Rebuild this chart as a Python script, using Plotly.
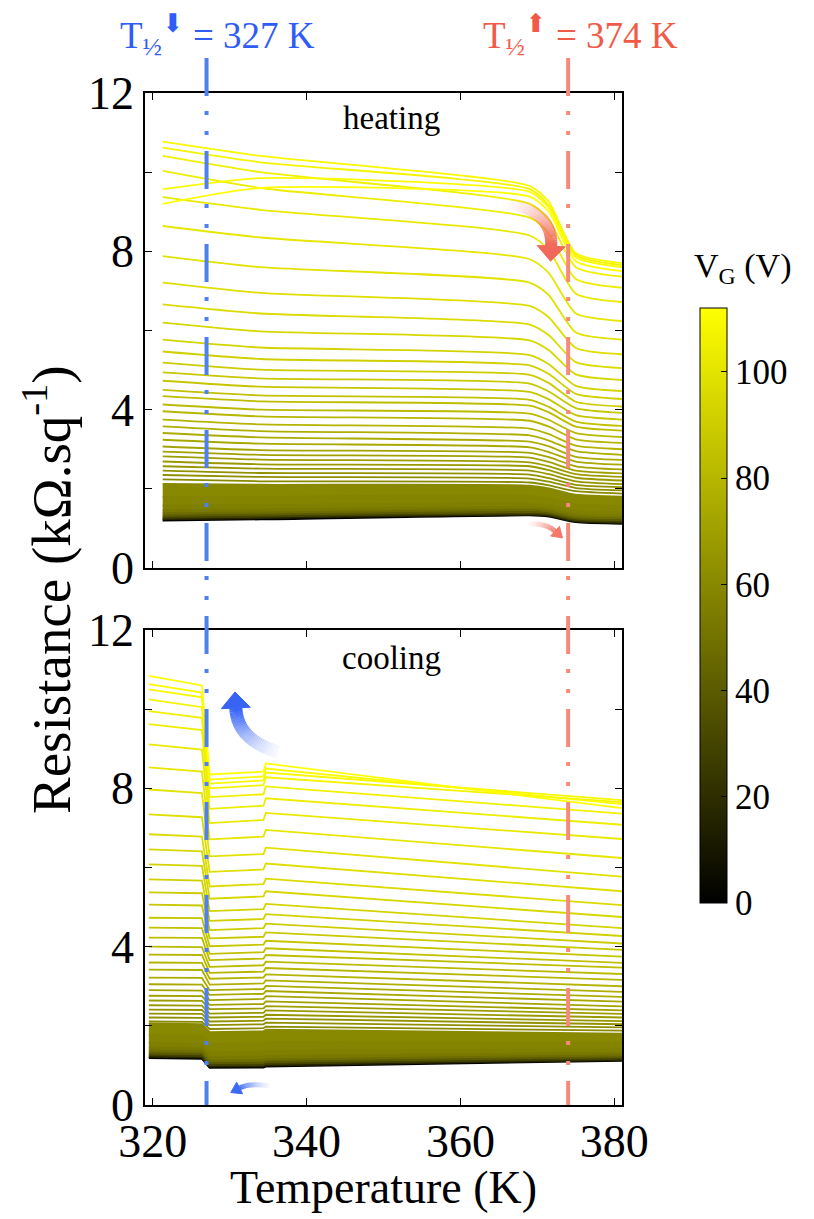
import plotly.graph_objects as go
import math

# ---------------- data ----------------
VMAX = 112
# separated curves, top -> bottom (gate voltage, V)
VG_LINES = [112.0, 110.4, 108.8, 107.2, 105.6, 104.0, 102.4, 100.8, 99.2, 97.6, 96.0, 94.4, 92.8, 91.2, 89.6,
            88.0, 86.4, 84.8, 83.2, 81.6, 80.0, 78.4, 76.8, 75.2, 73.6, 72.0, 70.4, 68.8, 67.2, 65.6, 64.0,
            62.4, 60.8]
# heating branch (kOhm/sq) at the HEAT_T knots
HEAT_T = [321.3, 334.0, 369.0, 371.5, 375.0, 381.0]
H320 = [9.20, 9.57, 10.77, 10.62, 10.41, 10.03, 9.37, 8.64, 7.88, 7.21, 6.66, 6.20, 5.77, 5.47, 5.19, 4.94, 4.73,
        4.50, 4.34, 4.13, 3.96, 3.75, 3.58, 3.41, 3.24, 3.07, 2.94, 2.82, 2.69, 2.57, 2.46, 2.35, 2.24]
H334 = [9.60, 9.85, 10.41, 10.25, 10.00, 9.60, 9.05, 8.35, 7.60, 6.95, 6.43, 5.98, 5.57, 5.28, 5.01, 4.79, 4.58,
        4.36, 4.21, 4.00, 3.83, 3.63, 3.46, 3.30, 3.14, 2.98, 2.86, 2.74, 2.62, 2.51, 2.40, 2.30, 2.19]
H369 = [9.38, 9.50, 9.65, 9.57, 9.20, 8.85, 8.40, 7.80, 7.21, 6.62, 6.15, 5.75, 5.38, 5.12, 4.88, 4.66, 4.45,
        4.25, 4.10, 3.90, 3.72, 3.52, 3.35, 3.19, 3.05, 2.91, 2.79, 2.67, 2.57, 2.46, 2.36, 2.26, 2.16]
H372 = [9.00, 9.10, 9.25, 9.15, 8.80, 8.45, 8.03, 7.45, 6.89, 6.33, 5.88, 5.50, 5.15, 4.90, 4.67, 4.46, 4.26,
        4.07, 3.93, 3.74, 3.57, 3.38, 3.22, 3.07, 2.93, 2.80, 2.68, 2.57, 2.47, 2.37, 2.27, 2.18, 2.09]
H375 = [7.75, 7.85, 7.95, 7.90, 7.60, 7.30, 6.93, 6.43, 5.95, 5.56, 5.20, 4.89, 4.60, 4.40, 4.20, 4.04, 3.86,
        3.70, 3.57, 3.41, 3.25, 3.09, 2.95, 2.81, 2.69, 2.57, 2.46, 2.37, 2.28, 2.19, 2.10, 2.02, 1.94]
R381 = [7.50, 7.60, 7.70, 7.65, 7.36, 7.08, 6.72, 6.24, 5.77, 5.40, 5.05, 4.75, 4.47, 4.27, 4.08, 3.92, 3.75,
        3.59, 3.47, 3.31, 3.16, 3.00, 2.86, 2.73, 2.61, 2.49, 2.39, 2.30, 2.21, 2.12, 2.04, 1.96, 1.88]
# cooling branch at the COOL_T knots
COOL_T = [319.5, 326.4, 327.4, 334.4, 334.7, 381.0]
C320 = [10.84, 10.63, 10.50, 10.25, 9.95, 9.62, 9.11, 8.53, 7.97, 7.34, 6.84, 6.46, 6.08, 5.70, 5.37, 5.06, 4.73,
        4.48, 4.23, 4.00, 3.80, 3.60, 3.42, 3.22, 3.05, 2.90, 2.76, 2.64, 2.52, 2.41, 2.31, 2.21, 2.11]
C326 = [10.60, 10.42, 10.30, 10.05, 9.78, 9.47, 8.98, 8.42, 7.88, 7.27, 6.78, 6.41, 6.04, 5.67, 5.35, 5.04, 4.72,
        4.47, 4.22, 3.99, 3.79, 3.59, 3.41, 3.21, 3.04, 2.89, 2.75, 2.63, 2.51, 2.40, 2.30, 2.20, 2.10]
C328 = [8.35, 8.22, 8.12, 8.00, 7.78, 7.48, 7.12, 6.71, 6.28, 5.89, 5.52, 5.21, 4.90, 4.65, 4.42, 4.21, 4.01,
        3.82, 3.66, 3.49, 3.34, 3.19, 3.04, 2.90, 2.78, 2.65, 2.53, 2.42, 2.31, 2.21, 2.11, 2.02, 1.92]
C334 = [8.42, 8.30, 8.20, 8.08, 7.85, 7.56, 7.20, 6.78, 6.34, 5.95, 5.58, 5.27, 4.95, 4.70, 4.47, 4.25, 4.05,
        3.86, 3.70, 3.53, 3.37, 3.22, 3.07, 2.93, 2.81, 2.68, 2.55, 2.44, 2.33, 2.23, 2.13, 2.04, 1.94]
C335 = [8.63, 8.50, 8.40, 8.28, 8.05, 7.75, 7.38, 6.95, 6.50, 6.10, 5.72, 5.40, 5.08, 4.82, 4.58, 4.36, 4.15,
        3.96, 3.79, 3.62, 3.46, 3.30, 3.15, 3.01, 2.88, 2.75, 2.62, 2.50, 2.39, 2.28, 2.18, 2.08, 1.98]

# dense low-voltage band, bottom -> top
BAND_VG = [0, 16, 30, 40, 48, 53, 56, 58, 60]
BAND_H320 = [1.20, 1.23, 1.27, 1.32, 1.38, 1.46, 1.58, 1.80, 2.12]
BAND_H334 = [1.23, 1.26, 1.30, 1.35, 1.40, 1.48, 1.59, 1.80, 2.10]
BAND_H369 = [1.33, 1.35, 1.38, 1.42, 1.47, 1.53, 1.63, 1.82, 2.08]
BAND_H372 = [1.30, 1.32, 1.35, 1.39, 1.43, 1.49, 1.58, 1.76, 2.01]
BAND_H375 = [1.16, 1.18, 1.21, 1.25, 1.29, 1.35, 1.44, 1.61, 1.85]
BAND_R381 = [1.12, 1.14, 1.17, 1.21, 1.26, 1.32, 1.41, 1.57, 1.80]
BAND_C320 = [1.19, 1.22, 1.26, 1.31, 1.37, 1.45, 1.57, 1.77, 2.06]
BAND_C326 = [1.17, 1.20, 1.24, 1.29, 1.35, 1.43, 1.55, 1.75, 2.04]
BAND_C328 = [0.94, 0.97, 1.01, 1.06, 1.12, 1.21, 1.33, 1.54, 1.84]
BAND_C334 = [0.95, 0.98, 1.02, 1.07, 1.13, 1.22, 1.35, 1.56, 1.86]
BAND_C335 = [0.97, 1.00, 1.04, 1.09, 1.15, 1.24, 1.37, 1.59, 1.90]

T_HALF_DOWN = 327
T_HALF_UP = 374
X_TICKS = [320, 340, 360, 380]
Y_TICKS = [0, 2, 4, 6, 8, 10, 12]
Y_TICKTEXT = ["0", "", "4", "", "8", "", "12"]
CB_TICKS = [0, 20, 40, 60, 80, 100]

# ---------------- style ----------------
FONT = "Liberation Serif, Times New Roman, DejaVu Serif, serif"
BLUE_LINE = "#4f80f2"
RED_LINE = "#f48a7c"
BLUE_TXT = "#2f5cf6"
RED_TXT = "#f25a48"

# page offset of the figure and plot-area geometry (px in the 814x1219 picture)
OFF = 8
PL, PT, PW, PH = 145, 93, 477, 1012


def vg_color(v):
    f = max(0.0, min(1.0, v / VMAX))
    c = round(255 * f)
    return f"rgb({c},{c},0)"


def px_x(px):
    return (px - PL) / PW


def px_y(py):
    return (PT + PH - py) / PH


fig = go.Figure()

# ---- band (filled) ----
for panel in ("heat", "cool"):
    for i, v in enumerate(BAND_VG):
        if panel == "heat":
            xs = HEAT_T
            ys = [BAND_H320[i], BAND_H334[i], BAND_H369[i], BAND_H372[i], BAND_H375[i], BAND_R381[i]]
            xa, ya, shape = "x", "y", "spline"
        else:
            xs = COOL_T
            ys = [BAND_C320[i], BAND_C326[i], BAND_C328[i], BAND_C334[i], BAND_C335[i], BAND_R381[i]]
            xa, ya, shape = "x2", "y2", "linear"
        fig.add_trace(go.Scatter(
            x=xs, y=ys, mode="lines", xaxis=xa, yaxis=ya,
            line=dict(color=vg_color(v), width=2, shape=shape, smoothing=0.6),
            fill="none" if i == 0 else "tonexty", fillcolor=vg_color(v),
            hoverinfo="skip", showlegend=False))

# ---- separated curves (low VG first so the bright ones lie on top) ----
order = list(range(len(VG_LINES)))[::-1]
for i in order:
    v = VG_LINES[i]
    fig.add_trace(go.Scatter(
        x=HEAT_T, y=[H320[i], H334[i], H369[i], H372[i], H375[i], R381[i]],
        mode="lines", xaxis="x", yaxis="y",
        line=dict(color=vg_color(v), width=1.8, shape="spline", smoothing=0.6),
        hoverinfo="skip", showlegend=False))
for i in order:
    v = VG_LINES[i]
    fig.add_trace(go.Scatter(
        x=COOL_T, y=[C320[i], C326[i], C328[i], C334[i], C335[i], R381[i]],
        mode="lines", xaxis="x2", yaxis="y2",
        line=dict(color=vg_color(v), width=1.8, shape="linear"),
        hoverinfo="skip", showlegend=False))

# ---- curved gradient arrows ----
PX_PER_K = PW / 62.0
PX_PER_R = 475 / 12.0


def add_arrow(p0, p1, p2, xa, ya, rgb, w, head_w, head_l, n=30):
    P = [(t * PX_PER_K, r * PX_PER_R) for t, r in (p0, p1, p2)]

    def bez(s):
        a = (1 - s) ** 2
        b = 2 * (1 - s) * s
        c = s ** 2
        return (a * P[0][0] + b * P[1][0] + c * P[2][0], a * P[0][1] + b * P[1][1] + c * P[2][1])

    for k in range(n):
        s0, s1 = k / n, min((k + 1.15) / n, 1.0)
        q0, q1 = bez(s0), bez(s1)
        alpha = 0.03 + 0.97 * ((k + 1) / n) ** 1.4
        fig.add_trace(go.Scatter(
            x=[q0[0] / PX_PER_K, q1[0] / PX_PER_K], y=[q0[1] / PX_PER_R, q1[1] / PX_PER_R],
            mode="lines", xaxis=xa, yaxis=ya,
            line=dict(color=f"rgba({rgb[0]},{rgb[1]},{rgb[2]},{alpha:.3f})", width=w),
            hoverinfo="skip", showlegend=False))
    dx, dy = P[2][0] - P[1][0], P[2][1] - P[1][1]
    L = math.hypot(dx, dy)
    ux, uy = dx / L, dy / L
    nx, ny = -uy, ux
    tip = (P[2][0] + ux * head_l, P[2][1] + uy * head_l)
    c1 = (P[2][0] + nx * head_w / 2, P[2][1] + ny * head_w / 2)
    c2 = (P[2][0] - nx * head_w / 2, P[2][1] - ny * head_w / 2)
    pts = [c1, tip, c2, c1]
    fig.add_trace(go.Scatter(
        x=[p[0] / PX_PER_K for p in pts], y=[p[1] / PX_PER_R for p in pts],
        mode="lines", fill="toself", xaxis=xa, yaxis=ya,
        fillcolor=f"rgb({rgb[0]},{rgb[1]},{rgb[2]})",
        line=dict(color=f"rgb({rgb[0]},{rgb[1]},{rgb[2]})", width=1),
        hoverinfo="skip", showlegend=False))


add_arrow((366.4, 9.22), (372.0, 8.99), (371.8, 8.13), "x", "y", (240, 105, 90), 12, 28, 15)
add_arrow((368.8, 1.11), (371.1, 1.14), (372.3, 0.93), "x", "y", (244, 120, 105), 5, 13, 10)
add_arrow((336.3, 8.92), (331.0, 9.22), (330.8, 10.03), "x2", "y2", (55, 100, 245), 13, 29, 16)
add_arrow((335.2, 0.48), (332.6, 0.56), (331.3, 0.43), "x2", "y2", (60, 105, 245), 5, 13, 10)

# ---- colorbar (dummy trace) ----
fig.add_trace(go.Scatter(
    x=[350], y=[-5], mode="markers", xaxis="x", yaxis="y",
    marker=dict(color=[0], cmin=0, cmax=VMAX, size=1,
                colorscale=[[0, "rgb(0,0,0)"], [1, "rgb(255,255,0)"]],
                showscale=True,
                colorbar=dict(x=px_x(700), xanchor="left", xpad=0, ypad=0,
                              y=px_y(605.5), yanchor="middle",
                              len=595 / PH, lenmode="fraction",
                              thickness=27, thicknessmode="pixels",
                              outlinecolor="black", outlinewidth=1,
                              ticks="inside", ticklen=6, tickcolor="black",
                              tickvals=CB_TICKS,
                              tickfont=dict(family=FONT, size=35, color="black"))),
    hoverinfo="skip", showlegend=False))

# ---- layout ----
axis_common = dict(showline=True, linecolor="black", linewidth=1.5, mirror="allticks",
                   ticks="inside", ticklen=7, tickcolor="black", tickwidth=1.2,
                   showgrid=False, zeroline=False,
                   tickfont=dict(family=FONT, size=46, color="black"))
top_low = px_y(568)
bot_high = px_y(630)

fig.update_layout(
    template="none",
    font=dict(family=FONT, color="black"),
    width=814, height=1219,
    margin=dict(l=PL - OFF, r=814 - (PL - OFF) - PW, t=PT - OFF, b=1219 - (PT - OFF) - PH,
                autoexpand=False),
    paper_bgcolor="white", plot_bgcolor="white",
    showlegend=False,
    xaxis=dict(domain=[0, 1], anchor="y", range=[319, 381], tickvals=X_TICKS,
               showticklabels=False, **axis_common),
    xaxis2=dict(domain=[0, 1], anchor="y2", range=[319, 381], tickvals=X_TICKS,
                showticklabels=True, ticklabelstandoff=-5, **axis_common),
    yaxis=dict(domain=[top_low, 1], anchor="x", range=[0, 12], tickvals=Y_TICKS,
               ticktext=Y_TICKTEXT, **axis_common),
    yaxis2=dict(domain=[0, bot_high], anchor="x2", range=[0, 12], tickvals=Y_TICKS,
                ticktext=Y_TICKTEXT, **axis_common),
)

# vertical dash-dot markers of the transition temperatures
DASH = "38px,15px,4px,16px,4px,16px"
for xv, col in ((T_HALF_DOWN, BLUE_LINE), (T_HALF_UP, RED_LINE)):
    fig.add_shape(type="line", xref="x", yref="paper", x0=xv, x1=xv,
                  y0=px_y(58), y1=0.0, line=dict(color=col, width=4, dash=DASH), layer="above")

ann = [
    dict(text="heating", x=351, y=11.37, xref="x", yref="y",
         font=dict(family=FONT, size=33, color="black")),
    dict(text="cooling", x=351, y=11.3, xref="x2", yref="y2",
         font=dict(family=FONT, size=33, color="black")),
    dict(text="T<sub>½</sub><sup>⬇</sup> = 327 K", x=px_x(217), y=px_y(35),
         xref="paper", yref="paper", font=dict(family=FONT, size=37, color=BLUE_TXT)),
    dict(text="T<sub>½</sub><sup>⬆</sup> = 374 K", x=px_x(580), y=px_y(35),
         xref="paper", yref="paper", font=dict(family=FONT, size=37, color=RED_TXT)),
    dict(text="V<sub>G</sub> (V)", x=px_x(742), y=px_y(268),
         xref="paper", yref="paper", font=dict(family=FONT, size=34, color="black")),
    dict(text="Resistance (kΩ.sq<sup>-1</sup>)", x=px_x(47), y=px_y(590),
         xref="paper", yref="paper", textangle=-90,
         font=dict(family=FONT, size=55, color="black")),
    dict(text="Temperature (K)", x=px_x(383), y=px_y(1187),
         xref="paper", yref="paper", font=dict(family=FONT, size=46, color="black")),
]
for a in ann:
    a.update(showarrow=False, xanchor="center", yanchor="middle")
    fig.add_annotation(**a)

fig.write_html("out.html")
